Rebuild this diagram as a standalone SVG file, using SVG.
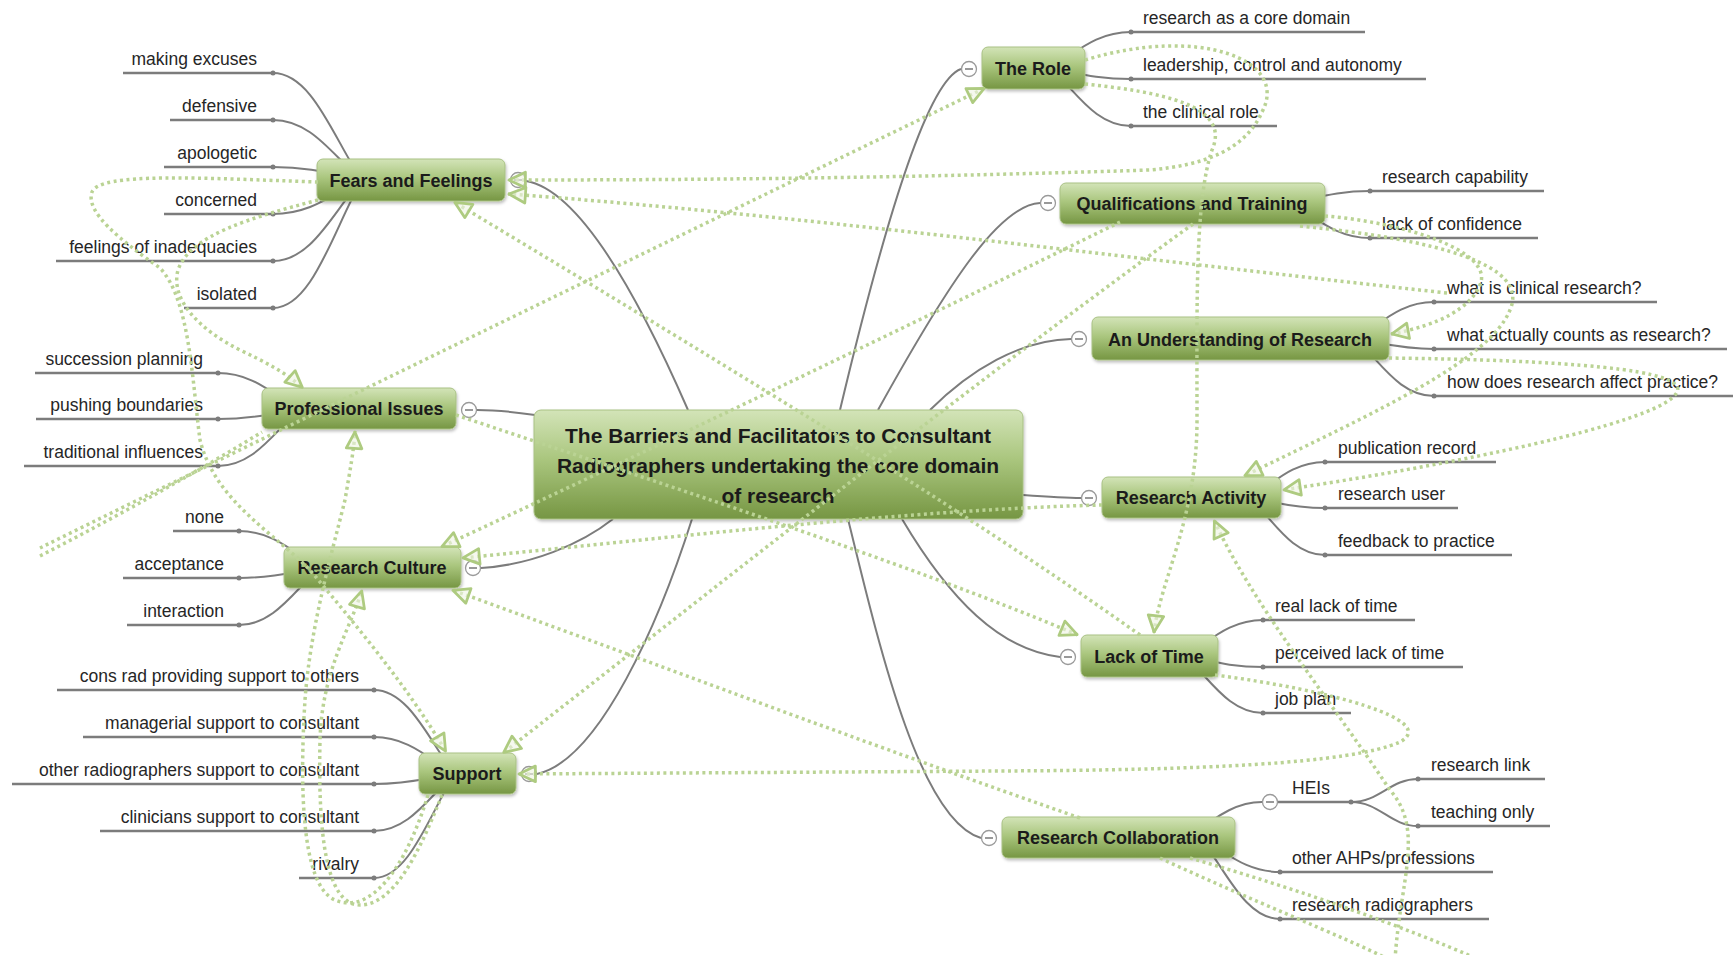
<svg xmlns="http://www.w3.org/2000/svg" width="1733" height="955" viewBox="0 0 1733 955">
<defs>
<linearGradient id="g" x1="0" y1="0" x2="0" y2="1">
<stop offset="0" stop-color="#d3e4b8"/>
<stop offset="0.45" stop-color="#aac67e"/>
<stop offset="1" stop-color="#769643"/>
</linearGradient>
<filter id="sh" x="-10%" y="-20%" width="120%" height="150%">
<feDropShadow dx="1" dy="2" stdDeviation="1.5" flood-color="#000" flood-opacity="0.25"/>
</filter>
<marker id="arr" viewBox="0 0 24 24" refX="22" refY="12" markerWidth="22" markerHeight="22" markerUnits="userSpaceOnUse" orient="auto">
<path d="M3,3.5 L21,12 L3,20.5 Z" fill="#eef4e2" fill-opacity="0.6" stroke="#aecb80" stroke-width="3" stroke-linejoin="round"/>
</marker>
<style>
.br{fill:none;stroke:#7c7c7c;stroke-width:2}
.ul{stroke:#7c7c7c;stroke-width:2.5}
.dot{fill:#7c7c7c}
.lbl{font-family:"Liberation Sans",Arial,sans-serif;font-size:17.5px;fill:#262626}
.l{text-anchor:end}
.ttl{font-family:"Liberation Sans",Arial,sans-serif;font-size:18px;font-weight:bold;fill:#1b1b1b;text-anchor:middle}
.ctr{font-family:"Liberation Sans",Arial,sans-serif;font-size:21px;font-weight:bold;fill:#1b1b1b;text-anchor:middle}
.node{fill:url(#g);stroke:#a9c184;stroke-width:1;filter:url(#sh)}
.cc{fill:#fff;stroke:#9a9a9a;stroke-width:1.3}
.cm{stroke:#777;stroke-width:1.5}
.rel{fill:none;stroke:#bad394;stroke-width:3.5;stroke-dasharray:3 3.5}
.ar{marker-end:url(#arr)}
</style>
</defs>
<rect width="1733" height="955" fill="#fff"/>

<g id="branches">
<path class="br" d="M526,181 C580,190 640,300 688,410"/>
<path class="br" d="M477,410 C500,410 515,412 535,415"/>
<path class="br" d="M481,568 C530,565 580,545 613,519"/>
<path class="br" d="M537,774 C600,760 660,620 692,519"/>
<path class="br" d="M961,69 C930,80 890,200 840,410"/>
<path class="br" d="M1040,203 C1000,205 950,280 878,410"/>
<path class="br" d="M1071,339 C1020,340 970,370 930,410"/>
<path class="br" d="M1023,495 C1050,497 1065,498 1081,498"/>
<path class="br" d="M902,519 C950,600 1000,650 1060,657"/>
<path class="br" d="M848,519 C880,650 920,820 981,838"/>
<path class="br" d="M273,73 C313,73 335,142 362,180"/>
<path class="br" d="M273,120 C313,120 335,159 362,180"/>
<path class="br" d="M273,167 C313,167 335,175 362,180"/>
<path class="br" d="M273,214 C313,214 335,192 362,180"/>
<path class="br" d="M273,261 C313,261 335,208 362,180"/>
<path class="br" d="M273,308 C313,308 335,225 362,180"/>
<path class="br" d="M218,373 C255,373 275,397 300,410"/>
<path class="br" d="M218,419 C255,419 275,413 300,410"/>
<path class="br" d="M218,466 C255,466 275,430 300,410"/>
<path class="br" d="M239,531 C275,531 296,555 320,568"/>
<path class="br" d="M239,578 C275,578 296,571 320,568"/>
<path class="br" d="M239,625 C275,625 296,588 320,568"/>
<path class="br" d="M374,690 C410,690 431,745 455,774"/>
<path class="br" d="M374,737 C410,737 431,761 455,774"/>
<path class="br" d="M374,784 C410,784 431,777 455,774"/>
<path class="br" d="M374,831 C410,831 431,794 455,774"/>
<path class="br" d="M374,878 C410,878 431,810 455,774"/>
<path class="br" d="M1131,32 C1094,32 1074,55 1050,68"/>
<path class="br" d="M1131,79 C1094,79 1074,72 1050,68"/>
<path class="br" d="M1131,126 C1094,126 1074,88 1050,68"/>
<path class="br" d="M1370,191 C1334,191 1314,199 1290,203"/>
<path class="br" d="M1370,238 C1334,238 1314,215 1290,203"/>
<path class="br" d="M1434,302 C1398,302 1379,326 1355,339"/>
<path class="br" d="M1434,349 C1398,349 1379,342 1355,339"/>
<path class="br" d="M1434,396 C1398,396 1379,359 1355,339"/>
<path class="br" d="M1325,462 C1291,462 1272,485 1250,498"/>
<path class="br" d="M1325,508 C1291,508 1272,501 1250,498"/>
<path class="br" d="M1325,555 C1291,555 1272,518 1250,498"/>
<path class="br" d="M1263,620 C1228,620 1208,643 1185,656"/>
<path class="br" d="M1263,667 C1228,667 1208,660 1185,656"/>
<path class="br" d="M1263,713 C1228,713 1208,676 1185,656"/>
<path class="br" d="M1190,838 C1220,812 1240,802 1262,802"/>
<path class="br" d="M1280,872 C1244,872 1224,850 1200,838"/>
<path class="br" d="M1280,919 C1244,919 1224,866 1200,838"/>
<path class="br" d="M1351,802 C1380,802 1390,779 1418,779"/>
<path class="br" d="M1351,802 C1380,802 1390,826 1418,826"/>
</g>

<g id="making-excuses"><line class="ul" x1="123" y1="73" x2="273" y2="73"/><circle class="dot" cx="273" cy="73" r="2.5"/><text class="lbl l" x="257" y="64.5">making excuses</text></g>
<g id="defensive"><line class="ul" x1="170" y1="120" x2="273" y2="120"/><circle class="dot" cx="273" cy="120" r="2.5"/><text class="lbl l" x="257" y="111.5">defensive</text></g>
<g id="apologetic"><line class="ul" x1="164" y1="167" x2="273" y2="167"/><circle class="dot" cx="273" cy="167" r="2.5"/><text class="lbl l" x="257" y="158.5">apologetic</text></g>
<g id="concerned"><line class="ul" x1="164" y1="214" x2="273" y2="214"/><circle class="dot" cx="273" cy="214" r="2.5"/><text class="lbl l" x="257" y="205.5">concerned</text></g>
<g id="feelings-of-inadequacies"><line class="ul" x1="56" y1="261" x2="273" y2="261"/><circle class="dot" cx="273" cy="261" r="2.5"/><text class="lbl l" x="257" y="252.5">feelings of inadequacies</text></g>
<g id="isolated"><line class="ul" x1="184" y1="308" x2="273" y2="308"/><circle class="dot" cx="273" cy="308" r="2.5"/><text class="lbl l" x="257" y="299.5">isolated</text></g>

<g id="succession-planning"><line class="ul" x1="35" y1="373" x2="218" y2="373"/><circle class="dot" cx="218" cy="373" r="2.5"/><text class="lbl l" x="203" y="364.5">succession planning</text></g>
<g id="pushing-boundaries"><line class="ul" x1="36" y1="419" x2="218" y2="419"/><circle class="dot" cx="218" cy="419" r="2.5"/><text class="lbl l" x="203" y="410.5">pushing boundaries</text></g>
<g id="traditional-influences"><line class="ul" x1="24" y1="466" x2="218" y2="466"/><circle class="dot" cx="218" cy="466" r="2.5"/><text class="lbl l" x="203" y="457.5">traditional influences</text></g>

<g id="none"><line class="ul" x1="173" y1="531" x2="239" y2="531"/><circle class="dot" cx="239" cy="531" r="2.5"/><text class="lbl l" x="224" y="522.5">none</text></g>
<g id="acceptance"><line class="ul" x1="123" y1="578" x2="239" y2="578"/><circle class="dot" cx="239" cy="578" r="2.5"/><text class="lbl l" x="224" y="569.5">acceptance</text></g>
<g id="interaction"><line class="ul" x1="127" y1="625" x2="239" y2="625"/><circle class="dot" cx="239" cy="625" r="2.5"/><text class="lbl l" x="224" y="616.5">interaction</text></g>

<g id="cons-rad"><line class="ul" x1="57" y1="690" x2="374" y2="690"/><circle class="dot" cx="374" cy="690" r="2.5"/><text class="lbl l" x="359" y="681.5">cons rad providing support to others</text></g>
<g id="managerial"><line class="ul" x1="83" y1="737" x2="374" y2="737"/><circle class="dot" cx="374" cy="737" r="2.5"/><text class="lbl l" x="359" y="728.5">managerial support to consultant</text></g>
<g id="other-radiographers"><line class="ul" x1="12" y1="784" x2="374" y2="784"/><circle class="dot" cx="374" cy="784" r="2.5"/><text class="lbl l" x="359" y="775.5">other radiographers support to consultant</text></g>
<g id="clinicians"><line class="ul" x1="100" y1="831" x2="374" y2="831"/><circle class="dot" cx="374" cy="831" r="2.5"/><text class="lbl l" x="359" y="822.5">clinicians support to consultant</text></g>
<g id="rivalry"><line class="ul" x1="299" y1="878" x2="374" y2="878"/><circle class="dot" cx="374" cy="878" r="2.5"/><text class="lbl l" x="359" y="869.5">rivalry</text></g>

<g id="research-core-domain"><line class="ul" x1="1131" y1="32" x2="1365" y2="32"/><circle class="dot" cx="1131" cy="32" r="2.5"/><text class="lbl" x="1143" y="23.5">research as a core domain</text></g>
<g id="leadership"><line class="ul" x1="1131" y1="79" x2="1426" y2="79"/><circle class="dot" cx="1131" cy="79" r="2.5"/><text class="lbl" x="1143" y="70.5">leadership, control and autonomy</text></g>
<g id="clinical-role"><line class="ul" x1="1131" y1="126" x2="1277" y2="126"/><circle class="dot" cx="1131" cy="126" r="2.5"/><text class="lbl" x="1143" y="117.5">the clinical role</text></g>

<g id="research-capability"><line class="ul" x1="1370" y1="191" x2="1544" y2="191"/><circle class="dot" cx="1370" cy="191" r="2.5"/><text class="lbl" x="1382" y="182.5">research capability</text></g>
<g id="lack-of-confidence"><line class="ul" x1="1370" y1="238" x2="1538" y2="238"/><circle class="dot" cx="1370" cy="238" r="2.5"/><text class="lbl" x="1382" y="229.5">lack of confidence</text></g>

<g id="what-is-clinical"><line class="ul" x1="1434" y1="302" x2="1657" y2="302"/><circle class="dot" cx="1434" cy="302" r="2.5"/><text class="lbl" x="1447" y="293.5">what is clinical research?</text></g>
<g id="what-counts"><line class="ul" x1="1434" y1="349" x2="1727" y2="349"/><circle class="dot" cx="1434" cy="349" r="2.5"/><text class="lbl" x="1447" y="340.5">what actually counts as research?</text></g>
<g id="how-affect"><line class="ul" x1="1434" y1="396" x2="1733" y2="396"/><circle class="dot" cx="1434" cy="396" r="2.5"/><text class="lbl" x="1447" y="387.5">how does research affect practice?</text></g>

<g id="publication-record"><line class="ul" x1="1325" y1="462" x2="1496" y2="462"/><circle class="dot" cx="1325" cy="462" r="2.5"/><text class="lbl" x="1338" y="453.5">publication record</text></g>
<g id="research-user"><line class="ul" x1="1325" y1="508" x2="1458" y2="508"/><circle class="dot" cx="1325" cy="508" r="2.5"/><text class="lbl" x="1338" y="499.5">research user</text></g>
<g id="feedback"><line class="ul" x1="1325" y1="555" x2="1512" y2="555"/><circle class="dot" cx="1325" cy="555" r="2.5"/><text class="lbl" x="1338" y="546.5">feedback to practice</text></g>

<g id="real-lack"><line class="ul" x1="1263" y1="620" x2="1415" y2="620"/><circle class="dot" cx="1263" cy="620" r="2.5"/><text class="lbl" x="1275" y="611.5">real lack of time</text></g>
<g id="perceived-lack"><line class="ul" x1="1263" y1="667" x2="1463" y2="667"/><circle class="dot" cx="1263" cy="667" r="2.5"/><text class="lbl" x="1275" y="658.5">perceived lack of time</text></g>
<g id="job-plan"><line class="ul" x1="1263" y1="713" x2="1351" y2="713"/><circle class="dot" cx="1263" cy="713" r="2.5"/><text class="lbl" x="1275" y="704.5">job plan</text></g>

<g id="heis"><line class="ul" x1="1278" y1="802" x2="1351" y2="802"/><circle class="dot" cx="1351" cy="802" r="2.5"/><text class="lbl" x="1292" y="793.5">HEIs</text><circle class="cc" cx="1270" cy="802" r="7.5"/><line class="cm" x1="1266" y1="802" x2="1274" y2="802"/></g>
<g id="research-link"><line class="ul" x1="1418" y1="779" x2="1545" y2="779"/><circle class="dot" cx="1418" cy="779" r="2.5"/><text class="lbl" x="1431" y="770.5">research link</text></g>
<g id="teaching-only"><line class="ul" x1="1418" y1="826" x2="1550" y2="826"/><circle class="dot" cx="1418" cy="826" r="2.5"/><text class="lbl" x="1431" y="817.5">teaching only</text></g>
<g id="other-ahps"><line class="ul" x1="1280" y1="872" x2="1493" y2="872"/><circle class="dot" cx="1280" cy="872" r="2.5"/><text class="lbl" x="1292" y="863.5">other AHPs/professions</text></g>
<g id="research-radiographers"><line class="ul" x1="1280" y1="919" x2="1489" y2="919"/><circle class="dot" cx="1280" cy="919" r="2.5"/><text class="lbl" x="1292" y="910.5">research radiographers</text></g>

<g id="central"><rect class="node" x="534" y="410" width="489" height="109" rx="7"/>
<text class="ctr" x="778" y="443">The Barriers and Facilitators to Consultant</text>
<text class="ctr" x="778" y="473">Radiographers undertaking the core domain</text>
<text class="ctr" x="778" y="503">of research</text></g>

<g id="fears"><rect class="node" x="317" y="159" width="188" height="42" rx="6"/><text class="ttl" x="411" y="186.5">Fears and Feelings</text><circle class="cc" cx="518" cy="180" r="7.5"/><line class="cm" x1="514" y1="180" x2="522" y2="180"/></g>
<g id="professional-issues"><rect class="node" x="262" y="388" width="194" height="41" rx="6"/><text class="ttl" x="359" y="415">Professional Issues</text><circle class="cc" cx="469" cy="410" r="7.5"/><line class="cm" x1="465" y1="410" x2="473" y2="410"/></g>
<g id="research-culture"><rect class="node" x="284" y="547" width="177" height="41" rx="6"/><text class="ttl" x="372" y="574">Research Culture</text><circle class="cc" cx="473" cy="568" r="7.5"/><line class="cm" x1="469" y1="568" x2="477" y2="568"/></g>
<g id="support"><rect class="node" x="419" y="753" width="97" height="41" rx="6"/><text class="ttl" x="467" y="780">Support</text><circle class="cc" cx="529" cy="774" r="7.5"/><line class="cm" x1="525" y1="774" x2="533" y2="774"/></g>
<g id="the-role"><rect class="node" x="982" y="47" width="103" height="42" rx="6"/><text class="ttl" x="1033" y="74.5">The Role</text><circle class="cc" cx="969" cy="69" r="7.5"/><line class="cm" x1="965" y1="69" x2="973" y2="69"/></g>
<g id="qualifications"><rect class="node" x="1060" y="183" width="265" height="41" rx="6"/><text class="ttl" x="1192" y="209.5">Qualifications and Training</text><circle class="cc" cx="1048" cy="203" r="7.5"/><line class="cm" x1="1044" y1="203" x2="1052" y2="203"/></g>
<g id="understanding"><rect class="node" x="1092" y="317" width="297" height="43" rx="6"/><text class="ttl" x="1240" y="345.5">An Understanding of Research</text><circle class="cc" cx="1079" cy="339" r="7.5"/><line class="cm" x1="1075" y1="339" x2="1083" y2="339"/></g>
<g id="research-activity"><rect class="node" x="1102" y="477" width="179" height="41" rx="6"/><text class="ttl" x="1191" y="504">Research Activity</text><circle class="cc" cx="1089" cy="498" r="7.5"/><line class="cm" x1="1085" y1="498" x2="1093" y2="498"/></g>
<g id="lack-of-time"><rect class="node" x="1081" y="635" width="137" height="42" rx="6"/><text class="ttl" x="1149" y="662.5">Lack of Time</text><circle class="cc" cx="1068" cy="657" r="7.5"/><line class="cm" x1="1064" y1="657" x2="1072" y2="657"/></g>
<g id="research-collaboration"><rect class="node" x="1002" y="817" width="233" height="41" rx="6"/><text class="ttl" x="1118" y="844">Research Collaboration</text><circle class="cc" cx="989" cy="838" r="7.5"/><line class="cm" x1="985" y1="838" x2="993" y2="838"/></g>

<g id="relationships">
<path class="rel ar" d="M1085,60 C1200,25 1290,60 1262,112 C1245,150 1205,165 1150,170 C900,178 700,180 508,180"/>
<path class="rel ar" d="M1447,293 C1100,255 800,215 508,194"/>
<path class="rel ar" d="M1085,84 C1160,92 1232,105 1212,150 C1195,200 1197,300 1197,420 C1197,520 1160,580 1154,633"/>
<path class="rel ar" d="M1300,226 C1440,240 1530,265 1510,310 C1490,360 1380,410 1244,476"/>
<path class="rel ar" d="M1325,216 C1400,222 1495,250 1480,285 C1470,308 1440,325 1391,334"/>
<path class="rel ar" d="M1389,358 C1550,360 1700,368 1675,395 C1650,425 1450,465 1283,490"/>
<path class="rel ar" d="M1395,960 C1400,880 1425,830 1390,790 C1330,700 1250,600 1214,520"/>
<path class="rel ar" d="M456,415 C650,480 900,560 1078,635"/>
<path class="rel ar" d="M1140,635 C950,500 700,350 454,202"/>
<path class="rel ar" d="M1215,675 C1330,690 1440,720 1400,742 C1350,764 1200,770 1000,771 L518,774"/>
<path class="rel ar" d="M1080,818 C800,720 620,650 452,590"/>
<path class="rel" d="M1190,858 C1300,890 1400,925 1480,960"/>
<path class="rel" d="M1160,858 C1250,900 1340,935 1390,960"/>
<path class="rel ar" d="M318,200 C250,218 190,235 178,270 C170,300 200,330 240,350 C265,362 285,372 303,388"/>
<path class="rel ar" d="M318,182 C200,178 100,172 92,192 C85,212 120,240 160,268 C190,300 192,380 200,440 C215,500 270,530 310,570 C360,630 410,690 446,752"/>
<path class="rel ar" d="M428,795 C405,870 370,915 335,900 C300,885 300,780 305,700 C310,630 330,560 345,500 C350,470 354,450 355,431"/>
<path class="rel ar" d="M442,795 C420,850 395,905 360,905 C325,905 318,830 320,740 C322,670 350,630 362,590"/>
<path class="rel ar" d="M1120,222 C900,330 650,450 441,547"/>
<path class="rel ar" d="M40,548 C300,420 650,250 985,88"/>
<path class="rel" d="M40,556 C120,515 200,470 262,432"/>
<path class="rel ar" d="M1193,224 C950,400 700,600 503,753"/>
<path class="rel ar" d="M1102,505 C900,510 650,540 462,558"/>
</g>
</svg>
